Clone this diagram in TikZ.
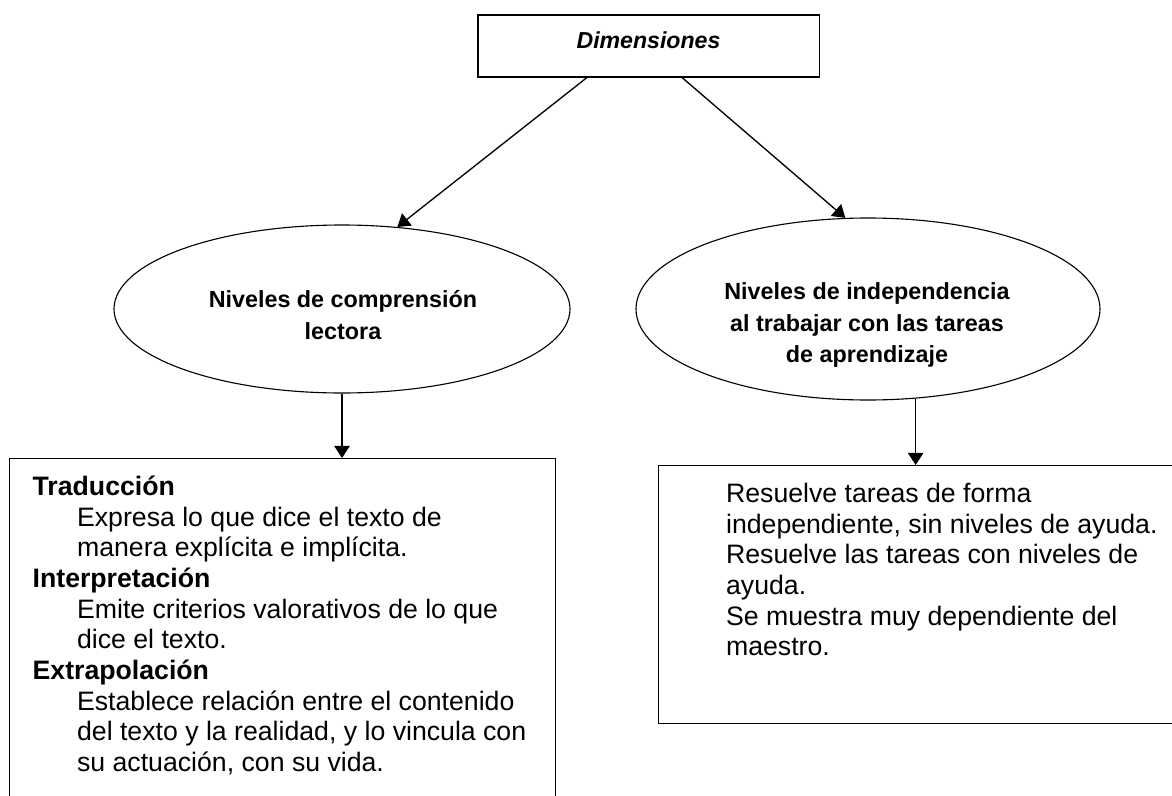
\documentclass[tikz,border=0pt]{standalone}
\usepackage{fontspec}
\setmainfont{Liberation Sans}
\usepackage{tikz}
\usetikzlibrary{positioning,arrows.meta,shapes.geometric}
\newcommand{\sangria}{\hspace*{20pt}}

\begin{document}
\begin{tikzpicture}[x=0.45pt,y=-0.45pt,
  conn/.style={line width=0.6pt,-{Triangle[width=7pt,length=5.5pt]}},
  framebox/.style={draw,line width=0.5pt,anchor=north west,inner xsep=10.4pt,inner ysep=7pt,font=\fontsize{12}{13.8}\selectfont},
  ovalbox/.style={draw,ellipse,line width=0.5pt},
  ovaltext/.style={align=center,font=\bfseries\fontsize{10.5}{14}\selectfont}]
\useasboundingbox (0,0) rectangle (1172,796);
\clip (0,0) rectangle (1172,796);

% Top box
\node[draw,line width=0.5pt,minimum width=153.5pt,minimum height=27.9pt,text depth=5.6pt,font=\bfseries\itshape\fontsize{10.4}{12}\selectfont] (dim) at (648.5,46) {Dimensiones};

% Ellipses
\node[ovalbox,minimum width=205.2pt,minimum height=75.6pt] (lvl1) at (342,309) {};
\node[ovalbox,minimum width=208.8pt,minimum height=81.9pt] (lvl2) at (868,309) {};
\node[ovaltext] (lvl1txt) at (343,315) {Niveles de comprensión\\lectora};
\node[ovaltext] (lvl2txt) at (867,325) {Niveles de independencia\\al trabajar con las tareas\\de aprendizaje};

% Lower boxes
\node[framebox] (trad) at (9,458) {\begin{minipage}[t][160pt][t]{225pt}
\strut\textbf{Traducción}\\
\sangria Expresa lo que dice el texto de\\
\sangria manera explícita e implícita.\\
\textbf{Interpretación}\\
\sangria Emite criterios valorativos de lo que\\
\sangria dice el texto.\\
\textbf{Extrapolación}\\
\sangria Establece relación entre el contenido\\
\sangria del texto y la realidad, y lo vincula con\\
\sangria su actuación, con su vida.
\end{minipage}};
\node[framebox] (res) at (658,465) {\begin{minipage}[t][102pt][t]{218pt}
\strut\sangria Resuelve tareas de forma\\
\sangria independiente, sin niveles de ayuda.\\
\sangria Resuelve las tareas con niveles de\\
\sangria ayuda.\\
\sangria Se muestra muy dependiente del\\
\sangria maestro.
\end{minipage}};

% Arrows
\draw[conn] ([xshift=-27.7pt]dim.south) -- (lvl1.56);
\draw[conn] ([xshift=15.1pt]dim.south) -- (lvl2.104);
\draw[conn] (lvl1.south) -- (lvl1.south |- trad.north);
\draw[conn] (lvl2.-62) -- (lvl2.-62 |- res.north);
\end{tikzpicture}
\end{document}
